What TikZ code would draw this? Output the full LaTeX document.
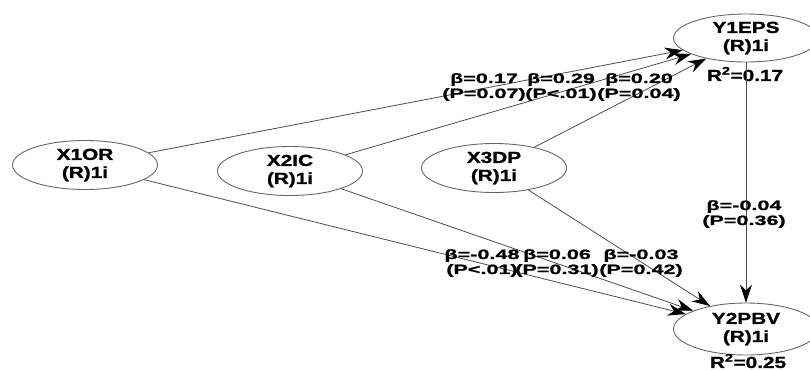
\documentclass[tikz,border=0pt]{standalone}
\usepackage{fontspec}
\usetikzlibrary{arrows.meta,shapes.geometric}
\newfontfamily\nfont[FakeStretch=1.3,FakeBold=1.2]{Liberation Sans}
\newfontfamily\lfont[FakeStretch=1.6,FakeBold=1.2]{Liberation Sans}
\begin{document}
\begin{tikzpicture}[x=1pt,y=-1pt,
  latent/.style={ellipse, draw=black!60, line width=0.9pt, minimum width=145pt, minimum height=49pt, inner sep=0pt, align=center, font=\nfont\bfseries\fontsize{16}{18}\selectfont},
  lbl/.style={align=center, inner sep=0pt, font=\lfont\bfseries\fontsize{13.5}{15}\selectfont},
  rsq/.style={inner sep=0pt, font=\nfont\bfseries\fontsize{16}{18}\selectfont},
  path/.style={draw=black!70, line width=0.8pt, -{Stealth[length=18pt,width=12pt,color=black]}}
]
\useasboundingbox (0,0) rectangle (810,370);
\node[latent] (x1) at (85,165) {X1OR\\(R)1i};
\node[latent] (x2) at (290,171) {X2IC\\(R)1i};
\node[latent] (x3) at (494,168) {X3DP\\(R)1i};
\node[latent, minimum height=48pt] (y1) at (746,38) {Y1EPS\\(R)1i};
\node[latent, minimum height=52pt] (y2) at (746,329) {Y2PBV\\(R)1i};
\node[rsq] (r1) at (745,74) {R\textsuperscript{2}=0.17};
\node[rsq] (r2) at (748,361) {R\textsuperscript{2}=0.25};
\draw[path] (x1) -- (y1);
\draw[path] (x2) -- (y1);
\draw[path] (x3) -- (y1);
\draw[path] (x1) -- (y2);
\draw[path] (x2) -- (y2);
\draw[path] (x3) -- (y2);
\draw[path] (y1) -- (y2);
\node[lbl] (l1) at (484,87) {β=0.17\\(P=0.07)};
\node[lbl] (l2) at (561,87) {β=0.29\\(P<.01)};
\node[lbl] (l3) at (639,87) {β=0.20\\(P=0.04)};
\node[lbl] (l4) at (482,263) {β=-0.48\\(P<.01)};
\node[lbl] (l5) at (557,263) {β=0.06\\(P=0.31)};
\node[lbl] (l6) at (641,263) {β=-0.03\\(P=0.42)};
\node[lbl] (l7) at (744,214) {β=-0.04\\(P=0.36)};
\end{tikzpicture}
\end{document}
